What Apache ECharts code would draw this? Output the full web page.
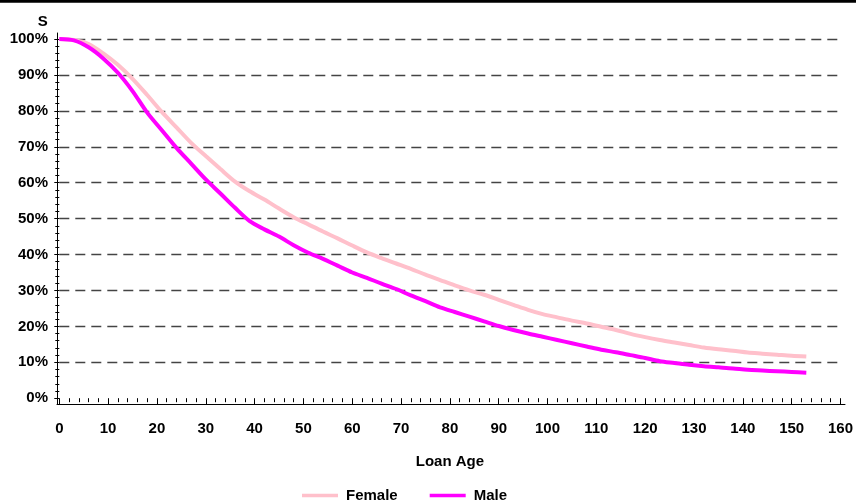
<!DOCTYPE html>
<html>
<head>
<meta charset="utf-8">
<script src="https://cdn.jsdelivr.net/npm/echarts@6/dist/echarts.min.js"></script>
<style>
  html, body { margin: 0; padding: 0; background: #fff; }
  #chart { width: 856px; height: 502px; }
</style>
</head>
<body>
<div id="chart"></div>
<script>
// Loan age in months
const loanAge = [0, 3, 6, 9, 12, 15, 18, 21, 24, 27, 30, 33, 36, 39, 42, 45, 48, 51, 54, 57,
  60, 63, 66, 69, 72, 75, 78, 81, 84, 87, 90, 93, 96, 99, 102, 105, 108, 111, 114, 117,
  120, 123, 126, 129, 132, 135, 138, 141, 144, 147, 150, 153];

// Survival (percent of loans still active)
const female = [100, 99.7, 98.6, 96.0, 92.8, 88.9, 84.4, 79.7, 75.4, 71.1, 67.4, 63.8, 60.3, 57.6, 55.3, 52.8, 50.4, 48.4, 46.4, 44.5,
  42.5, 40.6, 39.0, 37.5, 36.0, 34.4, 32.9, 31.4, 30.0, 28.8, 27.4, 26.0, 24.6, 23.4, 22.5, 21.6, 20.8, 19.9, 19.0, 17.9,
  17.0, 16.2, 15.5, 14.8, 14.1, 13.6, 13.2, 12.7, 12.4, 12.1, 11.8, 11.6];

const male = [100, 99.6, 97.7, 94.6, 90.6, 85.5, 79.5, 74.6, 69.7, 65.3, 60.9, 57.0, 53.0, 49.3, 47.0, 45.0, 42.6, 40.5, 38.8, 36.9,
  35.0, 33.5, 31.9, 30.4, 28.6, 27.0, 25.3, 24.0, 22.7, 21.4, 20.1, 19.0, 18.0, 17.1, 16.2, 15.3, 14.4, 13.5, 12.8, 12.0,
  11.2, 10.3, 9.8, 9.3, 8.9, 8.6, 8.3, 7.9, 7.7, 7.5, 7.3, 7.1];

const groupNames = ['Female', 'Male'];
const groupColors = ['#ffc0cb', '#ff00ff'];

const font = '"Liberation Sans", Arial, sans-serif';
const pairs = (ys) => loanAge.map((x, i) => [x, ys[i]]);

const chart = echarts.init(document.getElementById('chart'), null, { renderer: 'canvas' });

chart.setOption({
  backgroundColor: '#ffffff',
  animation: false,
  textStyle: { fontFamily: font },
  graphic: [{
    type: 'rect',
    left: 0, top: 0,
    shape: { width: 856, height: 2.7 },
    style: { fill: '#000' }
  }],
  grid: [
    // data area
    { left: 59.3, right: 13, top: 39, bottom: 103.8 },
    // frame for the L-shaped axis lines
    { left: 57, right: 11, top: 33, bottom: 98 }
  ],
  legend: {
    data: [
      { name: 'Female', icon: 'rect' },
      { name: 'Male', icon: 'rect' }
    ],
    left: 297,
    top: 483,
    itemWidth: 36,
    itemHeight: 3.5,
    itemGap: 32,
    textStyle: { fontFamily: font, fontSize: 15, fontWeight: 'bold', color: '#000', padding: [0, 0, 0, 3] }
  },
  xAxis: [{
    gridIndex: 0,
    type: 'value',
    min: 0, max: 160, interval: 10,
    offset: 5.8,
    name: 'Loan Age',
    nameLocation: 'middle',
    nameGap: 50,
    nameTextStyle: { fontFamily: font, fontSize: 15, fontWeight: 'bold', color: '#000' },
    axisLine: { show: false },
    axisTick: { show: true, length: 6, lineStyle: { color: '#000', width: 1 } },
    minorTick: { show: true, splitNumber: 5, length: 4, lineStyle: { color: '#000', width: 1 } },
    axisLabel: { margin: 17, fontFamily: font, fontSize: 15, fontWeight: 'bold', color: '#000' },
    splitLine: { show: false }
  }, {
    gridIndex: 1,
    type: 'value', min: 0, max: 1,
    axisLine: { show: true, onZero: false, lineStyle: { color: '#000', width: 1 } },
    axisTick: { show: false }, axisLabel: { show: false }, splitLine: { show: false }
  }],
  yAxis: [{
    gridIndex: 0,
    type: 'value',
    min: 0, max: 100, interval: 10,
    offset: 2.3,
    name: 'S',
    nameLocation: 'end',
    nameGap: 10,
    nameTextStyle: { fontFamily: font, fontSize: 15, fontWeight: 'bold', color: '#000', align: 'center', padding: [0, 33, 0, 0] },
    axisLine: { show: false },
    axisTick: { show: true, length: 5, lineStyle: { color: '#000', width: 1 } },
    minorTick: { show: true, splitNumber: 5, length: 4, lineStyle: { color: '#000', width: 1 } },
    axisLabel: { margin: 9, formatter: '{value}%', fontFamily: font, fontSize: 15, fontWeight: 'bold', color: '#000' },
    splitLine: { show: true, showMinLine: false, lineStyle: { color: '#444', width: 1.3, type: [10, 6] } }
  }, {
    gridIndex: 1,
    type: 'value', min: 0, max: 1,
    axisLine: { show: true, onZero: false, lineStyle: { color: '#000', width: 1 } },
    axisTick: { show: false }, axisLabel: { show: false }, splitLine: { show: false }
  }],
  series: groupNames.map((name, k) => ({
    name: name,
    type: 'line',
    xAxisIndex: 0,
    yAxisIndex: 0,
    data: pairs(k === 0 ? female : male),
    showSymbol: false,
    symbol: 'none',
    smooth: 0.3,
    color: groupColors[k],
    itemStyle: { color: groupColors[k] },
    lineStyle: { color: groupColors[k], width: 4 }
  }))
});
</script>
</body>
</html>
